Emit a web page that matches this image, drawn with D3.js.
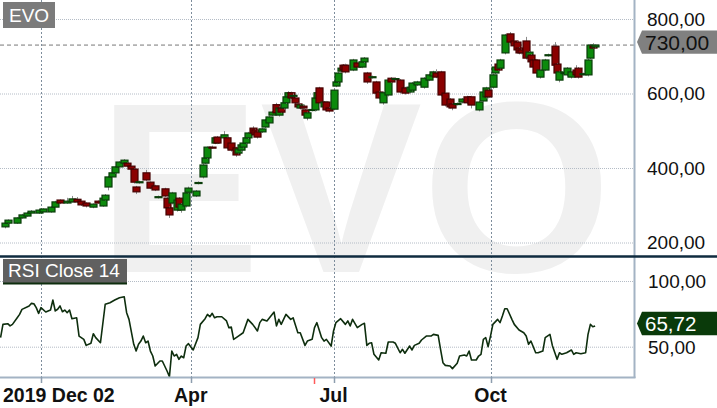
<!DOCTYPE html>
<html><head><meta charset="utf-8">
<script src="https://cdn.jsdelivr.net/npm/d3@7/dist/d3.min.js"></script>
<style>html,body{margin:0;padding:0;background:#fff;overflow:hidden}svg{display:block;font-family:"Liberation Sans",Arial,sans-serif}</style>
</head><body><svg id="c" width="717" height="408"></svg>
<script>
const symbol = "EVO";
const indicatorName = "RSI Close 14";
const lastPrice = 730;
const lastRsi = 65.72;
const priceTicks = [200, 400, 600, 800];
const rsiTicks = [50, 100];
const dateTickDays = [18, 81, 141, 207];
const dateTickLabels = ["", "Apr", "Jul", "Oct"];
const startLabel = "2019 Dec 02";
const markerDay = 133;

// trading-day index since 2019-12-02
const day = [3,4,8,10,12,14,17,19,22,24,26,29,31,33,35,37,40,42,44,45,46,48,49,51,53,54,56,57,58,59,62,64,66,67,70,71,72,73,75,76,77,79,80,83,84,86,87,88,90,91,92,95,96,98,100,101,102,103,104,105,107,108,109,111,112,114,115,117,118,119,120,121,122,123,124,125,126,127,128,129,130,132,133,134,135,137,138,139,141,142,143,144,145,146,149,151,153,154,155,157,159,160,162,164,165,167,169,171,173,174,176,179,181,183,184,186,188,190,191,193,195,197,199,202,204,205,206,208,209,210,211,213,215,217,218,219,220,222,223,224,225,226,228,230,231,234,235,236,238,239,241,243,244,246,248,249,250,251];
const open = [242,252,252,266,271,279,279,282,282,295,314,306,309,316,311,306,295,311,298,314,349,376,387,403,413,413,405,397,349,361,387,362,352,321,344,319,293,306,287,319,287,298,335,325,359,376,413,427,456,467,483,481,481,467,454,440,448,456,467,481,507,502,497,497,510,521,542,570,542,561,561,575,591,602,593,588,572,561,566,556,534,555,556,588,615,564,577,561,558,620,631,660,676,676,663,682,671,685,655,643,631,604,575,596,641,638,636,615,604,609,623,617,636,647,655,658,601,585,572,571,577,591,591,556,580,591,609,617,655,679,668,709,760,741,738,722,717,741,698,703,690,690,644,663,702,727,679,636,654,650,644,663,668,651,650,695,727,725];
const close = [252,260,266,274,279,284,287,290,295,309,306,311,317,309,301,298,303,306,319,327,376,387,403,416,421,405,397,362,336,363,368,346,341,323,325,293,274,333,314,295,303,333,346,338,361,408,427,456,454,481,467,489,454,448,435,451,462,467,481,494,494,489,483,505,529,537,550,548,561,550,575,591,602,588,595,575,564,569,561,542,548,557,588,602,575,577,556,553,609,631,655,668,663,658,690,671,685,695,631,645,601,588,602,636,631,640,604,601,617,628,631,641,650,658,644,596,569,564,561,573,585,575,569,577,604,615,591,650,671,663,690,757,738,728,717,709,709,695,711,685,671,655,663,690,704,676,655,658,656,668,658,650,644,653,690,730,722,730];
const high = [255,262,268,277,282,287,290,292,297,312,316,320,325,322,313,308,305,313,321,330,378,389,405,418,424,415,407,399,352,366,395,364,355,326,347,322,296,336,317,322,306,338,350,341,364,411,430,458,460,484,486,499,484,470,457,454,465,470,484,497,512,505,500,508,532,540,553,575,565,564,578,594,606,605,600,591,575,572,569,559,551,560,591,605,618,580,580,564,612,634,658,671,679,680,693,685,688,698,658,648,634,607,605,639,644,643,639,618,620,631,634,644,653,661,665,661,604,588,575,576,588,594,594,580,607,618,612,653,674,682,693,760,765,744,741,725,720,752,714,706,693,693,666,693,707,738,682,661,659,671,661,676,671,656,693,733,735,732];
const low = [238,250,250,264,269,277,277,280,280,293,303,304,307,306,298,294,292,304,296,312,340,374,385,401,411,403,395,358,330,358,365,343,338,318,322,290,266,302,283,290,280,294,332,322,356,372,410,424,452,464,464,478,450,444,430,437,444,453,464,478,491,486,479,494,506,517,539,545,538,547,557,572,588,585,590,571,560,557,557,538,528,552,552,585,560,560,552,549,555,617,628,657,660,654,660,668,668,682,626,640,597,584,570,592,628,635,600,597,600,606,620,613,633,644,641,592,565,560,555,568,573,571,560,552,576,587,587,613,652,660,665,705,734,724,713,705,705,691,694,681,667,645,640,660,699,672,640,630,651,646,640,646,640,648,646,691,720,723];

const rsiDay = [1,2,4,5,6,8,9,10,13,14,15,16,17,18,20,21,22,23,24,25,26,27,28,29,30,31,33,34,36,37,39,40,41,43,45,47,49,51,53,54,55,57,58,59,60,61,62,63,64,65,66,68,69,71,72,73,74,75,76,77,78,79,80,82,84,85,87,88,89,90,91,92,94,96,97,98,99,101,103,105,107,109,110,111,113,116,117,118,119,120,121,123,124,126,127,129,130,132,133,134,136,137,138,140,141,142,144,146,147,148,149,151,153,154,155,156,157,158,160,161,163,164,166,167,169,170,171,173,174,175,177,178,180,182,183,185,186,187,188,190,191,193,194,196,197,198,199,201,202,203,204,205,206,207,208,210,211,212,213,214,216,217,219,221,222,223,224,226,227,229,230,232,233,235,236,237,239,241,242,243,245,247,248,249,250,251];
const rsiVal = [56.9,67,67.5,65.8,67,72,74.6,78.4,81,83,82.7,79.7,75.4,79.7,76.4,77.2,77.9,85.5,77.2,78.5,81,76.6,77.9,75.9,77.9,71.3,72,58.1,55.6,51,52.6,59.9,56.9,53,82.3,83.5,85.5,87.3,88,75.9,70.8,51.8,46.7,51.8,54.3,58.1,53,54.3,46.7,42.9,35.3,39.1,39.1,31.5,27.2,46.7,42.9,44.2,40.4,42.9,41.6,50.5,52.3,47.5,56.9,67,71.3,74.6,72.8,75.4,72,72.8,72.8,69.6,64.5,65,55.6,58.1,60.6,70.8,67,62,68.3,70.8,69.6,76.4,65.8,70.8,67,70.8,74.6,70.8,72,60.6,60.6,51,54.3,55.6,64.5,68.3,56.9,54.3,55.6,50.5,62,68.3,71.3,67,69.6,65.8,70.8,64.5,67,67.8,51,52.6,53,44.2,39.9,45.4,45,53.6,53.6,52.6,45.4,48,45,50.5,47.5,51,52.6,55.1,58.1,58.1,59.4,58.6,48,37.8,35.8,35.3,33.3,37.4,42.9,43.7,42.9,46.7,39.9,39.9,42.9,44.2,55.6,56.9,50,58.1,67,70.8,68.3,73.4,78.9,78.9,70.8,67,62.7,60.6,58.1,51.8,54.3,45.4,45.4,46.7,56.9,59.4,51,40.4,45.4,44.2,45.4,47.5,44.2,45.4,44.6,45.4,59.4,67,65.2,65.72];

const W = 717, H = 408;
const plotRight = 634;
const priceTop = 0, priceBottom = 255;
const rsiTop = 257, rsiBottom = 377;

const x = d3.scaleLinear().domain([18, 207]).range([41, 490.5]);
const yP = d3.scaleLinear().domain([200, 800]).range([242.5, 19]);
const yR = d3.scaleLinear().domain([50, 100]).range([346.7, 281]);
const fmt = d3.formatLocale({decimal: ",", thousands: " ", grouping: [3], currency: ["", ""]}).format(".2f");

const svg = d3.select("#c");
svg.append("rect").attr("width", W).attr("height", H).attr("fill", "#fff");

const defs = svg.append("defs");
defs.append("clipPath").attr("id", "cp").append("rect").attr("x", 0).attr("y", priceTop).attr("width", plotRight).attr("height", priceBottom - priceTop);
defs.append("clipPath").attr("id", "cr").append("rect").attr("x", 0).attr("y", rsiTop).attr("width", plotRight).attr("height", rsiBottom - rsiTop);

// watermark
svg.append("text").attr("x", 98).attr("y", 272).attr("font-size", 243).attr("font-weight", "bold")
  .attr("fill", "#f0f0f0").text(symbol);

// horizontal gridlines
svg.append("g").selectAll("line").data(priceTicks).join("line")
  .attr("x1", 0).attr("x2", plotRight).attr("y1", d => yP(d) + 0.5).attr("y2", d => yP(d) + 0.5)
  .attr("stroke", "#b4bcc6").attr("stroke-width", 1).attr("stroke-dasharray", "1,1");
svg.append("g").selectAll("line").data(rsiTicks).join("line")
  .attr("x1", 0).attr("x2", plotRight).attr("y1", d => yR(d) + 0.5).attr("y2", d => yR(d) + 0.5)
  .attr("stroke", "#b4bcc6").attr("stroke-width", 1).attr("stroke-dasharray", "1,1");

// vertical gridlines
svg.append("g").selectAll("line").data(dateTickDays).join("line")
  .attr("x1", d => Math.round(x(d)) + 0.5).attr("x2", d => Math.round(x(d)) + 0.5)
  .attr("y1", 0).attr("y2", rsiBottom)
  .attr("stroke", "#7d8d9c").attr("stroke-width", 1).attr("stroke-dasharray", "2,2");

// last price dashed line
svg.append("line").attr("x1", 0).attr("x2", plotRight).attr("y1", yP(lastPrice)).attr("y2", yP(lastPrice))
  .attr("stroke", "#777").attr("stroke-width", 1).attr("stroke-dasharray", "4,3");

// candles
const candles = day.map((d, i) => ({d, o: open[i], c: close[i], h: high[i], l: low[i]}));
const cg = svg.append("g").attr("clip-path", "url(#cp)");
const cs = cg.selectAll("g").data(candles).join("g");
cs.append("line")
  .attr("x1", d => Math.round(x(d.d)) + 0.5).attr("x2", d => Math.round(x(d.d)) + 0.5)
  .attr("y1", d => yP(d.h)).attr("y2", d => yP(d.l))
  .attr("stroke", "#8c8c8c").attr("stroke-width", 1);
cs.append("rect")
  .attr("x", d => Math.round(x(d.d)) - 3)
  .attr("y", d => yP(Math.max(d.o, d.c)))
  .attr("width", 7)
  .attr("height", d => Math.max(1, Math.abs(yP(d.o) - yP(d.c))))
  .attr("fill", d => d.c >= d.o ? "#0c8a0c" : "#8a0000")
  .attr("stroke", d => d.c >= d.o ? "#0a3d0a" : "#450000")
  .attr("stroke-width", 1.2);

// RSI line
const rsi = rsiDay.map((d, i) => ({d, v: rsiVal[i]}));
svg.append("path").datum(rsi).attr("clip-path", "url(#cr)")
  .attr("d", d3.line().x(d => x(d.d)).y(d => yR(d.v)))
  .attr("fill", "none").attr("stroke", "#0e2e0e").attr("stroke-width", 1.6).attr("stroke-linejoin", "round");

// axis lines
svg.append("line").attr("x1", plotRight + 0.5).attr("x2", plotRight + 0.5).attr("y1", 0).attr("y2", rsiBottom + 1)
  .attr("stroke", "#a3b3c4").attr("stroke-width", 2);
svg.append("line").attr("x1", 0).attr("x2", plotRight + 1.5).attr("y1", rsiBottom + 0.5).attr("y2", rsiBottom + 0.5)
  .attr("stroke", "#a3b3c4").attr("stroke-width", 2);
svg.append("g").selectAll("line").data(dateTickDays).join("line")
  .attr("x1", d => Math.round(x(d)) + 0.5).attr("x2", d => Math.round(x(d)) + 0.5)
  .attr("y1", rsiBottom).attr("y2", rsiBottom + 6)
  .attr("stroke", "#8d9dae").attr("stroke-width", 1.5);
svg.append("line").attr("x1", x(markerDay)).attr("x2", x(markerDay)).attr("y1", rsiBottom + 1).attr("y2", rsiBottom + 7)
  .attr("stroke", "#ff5a5a").attr("stroke-width", 1.5);

// panel separator
svg.append("line").attr("x1", 0).attr("x2", W).attr("y1", 256.5).attr("y2", 256.5)
  .attr("stroke", "#0f2b3f").attr("stroke-width", 2.5);

// price axis labels
svg.append("g").selectAll("text").data(priceTicks).join("text")
  .attr("x", 647).attr("y", d => yP(d)).attr("dy", "0.36em")
  .attr("font-size", 19).attr("fill", "#111").text(d => fmt(d));
svg.append("g").selectAll("text").data(rsiTicks).join("text")
  .attr("x", 648).attr("y", d => yR(d)).attr("dy", "0.36em")
  .attr("font-size", 19).attr("fill", "#111").text(d => fmt(d));

// value tags
function tag(yc, fill, txtColor, label, fs) {
  const top = yc - 11.7, bot = yc + 11.7;
  svg.append("path").attr("d", `M637,${yc} L642,${top} L717,${top} L717,${bot} L642,${bot} Z`).attr("fill", fill);
  svg.append("text").attr("x", 645).attr("y", yc).attr("dy", "0.36em").attr("font-size", fs).attr("fill", txtColor).text(label);
}
tag(yP(lastPrice) - 3, "#808080", "#111", fmt(lastPrice), 21);
tag(yR(lastRsi) - 2.5, "#0a3a0a", "#fff", fmt(lastRsi), 20.5);

// panel title boxes
svg.append("rect").attr("x", 3).attr("y", 2).attr("width", 52).attr("height", 26).attr("fill", "#7b7b7b");
svg.append("text").attr("x", 9).attr("y", 15).attr("dy", "0.36em").attr("font-size", 19).attr("fill", "#fff").text(symbol);
svg.append("rect").attr("x", 3).attr("y", 259).attr("width", 124).attr("height", 25).attr("fill", "#606060");
svg.append("rect").attr("x", 3).attr("y", 282.5).attr("width", 124).attr("height", 2).attr("fill", "#0e2e0e");
svg.append("text").attr("x", 8).attr("y", 270.5).attr("dy", "0.36em").attr("font-size", 19).attr("fill", "#fff").text(indicatorName);

// date labels
svg.append("text").attr("x", 3).attr("y", 401.5).attr("font-size", 19.5).attr("font-weight", "bold").attr("fill", "#111").text(startLabel);
svg.append("g").selectAll("text").data(dateTickDays.map((d, i) => ({d, t: dateTickLabels[i]})).filter(e => e.t)).join("text")
  .attr("x", e => x(e.d)).attr("y", 401.5).attr("text-anchor", "middle")
  .attr("font-size", 19.5).attr("font-weight", "bold").attr("fill", "#111").text(e => e.t);
</script></body></html>
